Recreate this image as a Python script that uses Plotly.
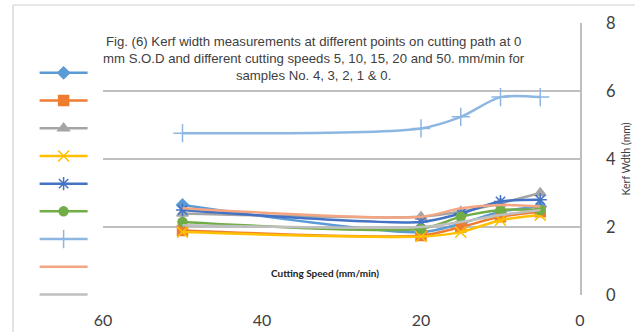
import plotly.graph_objects as go

speeds = [50, 20, 15, 10, 5]

series_names = ["", "", "", "", "", "", "", "", ""]
s1 = [2.65, 1.85, 2.10, 2.45, 2.60]
s2 = [1.90, 1.75, 2.00, 2.30, 2.45]
s3 = [2.40, 2.30, 2.45, 2.70, 3.00]
s4 = [1.85, 1.72, 1.85, 2.20, 2.35]
s5 = [2.50, 2.15, 2.40, 2.75, 2.80]
s6 = [2.15, 1.95, 2.30, 2.50, 2.50]
s7 = [4.76, 4.90, 5.24, 5.82, 5.82]
s8 = [2.55, 2.30, 2.55, 2.65, 2.60]
s9 = [2.05, 2.00, 2.15, 2.35, 2.50]

values = [s1, s2, s3, s4, s5, s6, s7, s8, s9]
colors = ["#5B9BD5", "#ED7D31", "#A5A5A5", "#FFC000", "#4472C4",
          "#70AD47", "#8DB6E2", "#F4A582", "#BFBFBF"]
symbols = ["diamond", "square", "triangle-up", "x-thin-open", "asterisk-open",
           "circle", "cross-thin-open", None, None]
msizes = [9, 10, 10, 11, 11, 9, 13, 0, 0]

y_ticks = [0, 2, 4, 6, 8]
x_ticks = [60, 40, 20, 0]

title_lines = [
    "Fig. (6) Kerf width measurements at different points on cutting path at 0",
    "mm S.O.D and different cutting speeds 5, 10, 15, 20 and 50. mm/min for",
    "samples No. 4, 3, 2, 1 &amp; 0.",
]

fig = go.Figure()
for name, vals, col, sym, ms in zip(series_names, values, colors, symbols, msizes):
    if sym is None:
        mode = "lines"
        marker = None
    else:
        mode = "lines+markers"
        marker = dict(symbol=sym, size=ms, color=col,
                      line=dict(color=col, width=1.5))
    fig.add_trace(go.Scatter(
        x=speeds, y=vals, name=name, mode=mode,
        line=dict(color=col, width=2.5, shape="spline", smoothing=0.8),
        marker=marker,
    ))

fig.update_layout(
    width=635, height=332,
    margin=dict(l=103, r=55, t=23, b=37),
    paper_bgcolor="white", plot_bgcolor="white",
    font=dict(family="Liberation Sans, Arial, sans-serif", color="#404040"),
    showlegend=True,
    legend=dict(
        x=-0.1434, xanchor="left", y=0.886, yanchor="top",
        font=dict(size=19), itemwidth=48,
        bgcolor="rgba(0,0,0,0)", tracegroupgap=0,
    ),
    xaxis=dict(
        range=[60, 0], tickvals=x_ticks, showgrid=False, zeroline=False,
        showline=False, ticks="", automargin=False,
        tickfont=dict(family="Lato, sans-serif", size=16, color="#404040"),
        ticklabelstandoff=14,
    ),
    yaxis=dict(
        range=[0, 8], tickvals=y_ticks, side="right", automargin=False,
        showgrid=True, gridcolor="#BFBFBF", gridwidth=1.5,
        zeroline=False, showline=True, linecolor="#BFBFBF", linewidth=1.5,
        ticks="", ticklabelstandoff=21,
        tickfont=dict(family="Lato, sans-serif", size=16.5, color="#404040"),
        title=dict(text="Kerf Wdth (mm)", standoff=8,
                   font=dict(family="Lato, sans-serif", size=10.5, color="#404040")),
    ),
)

fig.add_annotation(
    x=0.442, y=(295 - 59) / 272, xref="paper", yref="paper",
    xanchor="center", yanchor="middle",
    text="<br>".join(title_lines), showarrow=False, align="center",
    font=dict(family="Liberation Sans, Arial, sans-serif", size=13.2, color="#404040"),
)
fig.add_annotation(
    x=0.465, y=0.08, xref="paper", yref="paper", xanchor="center", yanchor="middle",
    text="<b>Cutting Speed (mm/min)</b>", showarrow=False,
    font=dict(family="Lato, sans-serif", size=10, color="#222222"),
)

# outer frame of the figure panel
fig.add_shape(type="line", xref="paper", yref="paper",
              x0=(13 - 103) / 477, x1=(635 - 103) / 477,
              y0=(295 - 5) / 272, y1=(295 - 5) / 272,
              line=dict(color="#D0D0D0", width=1.2))
fig.add_shape(type="line", xref="paper", yref="paper",
              x0=(13 - 103) / 477, x1=(13 - 103) / 477,
              y0=(295 - 5) / 272, y1=(295 - 335) / 272,
              line=dict(color="#D0D0D0", width=1.2))

fig.write_html("out.html")
